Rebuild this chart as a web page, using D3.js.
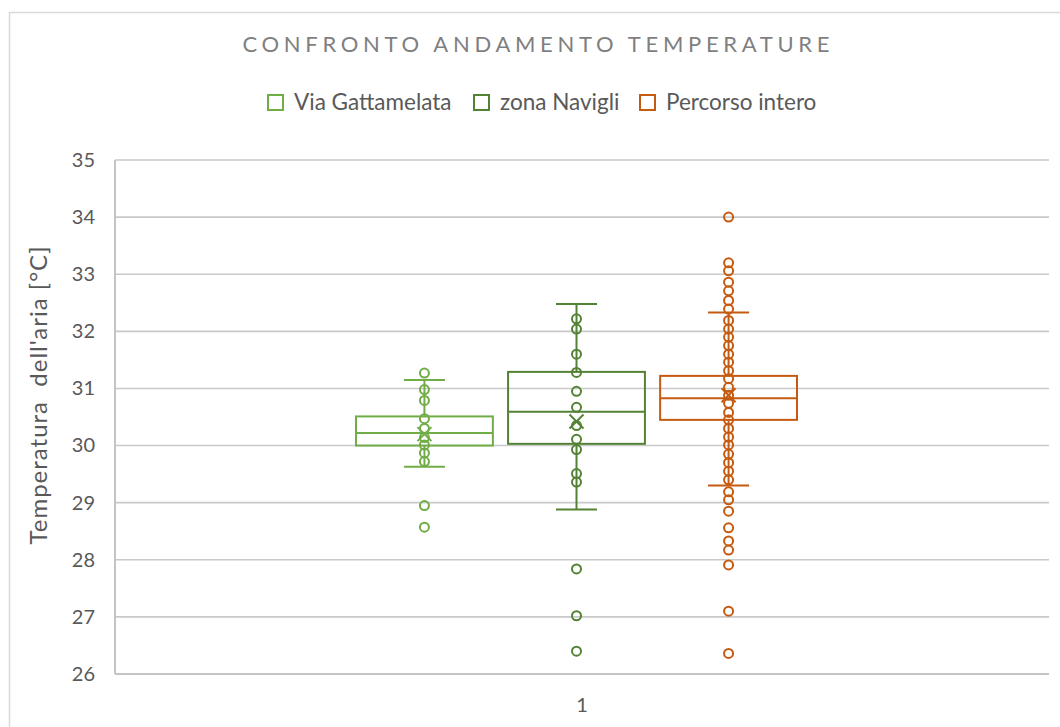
<!DOCTYPE html>
<html><head><meta charset="utf-8">
<script src="https://cdn.jsdelivr.net/npm/d3@7"></script>
<style>
body{margin:0;background:#fff}
text{font-family: Lato, "Open Sans", sans-serif}
</style>
</head><body>
<svg id="c" width="1060" height="727"></svg>
<script>
const chartTitle = "CONFRONTO ANDAMENTO TEMPERATURE";
const yAxisTitle = "Temperatura  dell'aria [°C]";
const categories = ["1"];
const seriesNames = ["Via Gattamelata", "zona Navigli", "Percorso intero"];
const seriesColors = ["#70ad47", "#548235", "#c55a11"];
const q1 = [30.00, 30.03, 30.45];
const median = [30.22, 30.59, 30.83];
const q3 = [30.51, 31.29, 31.22];
const whiskerLow = [29.63, 28.88, 29.30];
const whiskerHigh = [31.15, 32.48, 32.33];
const mean = [30.20, 30.42, 30.88];
const pointsGattamelata = [31.27, 30.98, 30.79, 30.47, 30.30, 30.14, 30.01, 29.87, 29.72, 28.95, 28.57];
const pointsNavigli = [32.22, 32.04, 31.60, 31.28, 30.95, 30.67, 30.35, 30.11, 29.93, 29.51, 29.36, 27.84, 27.02, 26.40];
const pointsPercorso = [34.00, 33.20, 33.06, 32.86, 32.71, 32.54, 32.39, 32.19, 32.04, 31.90, 31.75, 31.60, 31.46, 31.31, 31.17, 31.02, 30.88, 30.74, 30.58, 30.45, 30.30, 30.15, 30.01, 29.85, 29.70, 29.55, 29.40, 29.19, 29.05, 28.85, 28.56, 28.33, 28.17, 27.91, 27.10, 26.36];
const yTicks = [26, 27, 28, 29, 30, 31, 32, 33, 34, 35];

const allPoints = [pointsGattamelata, pointsNavigli, pointsPercorso];
const series = seriesNames.map((name, i) => ({
  name, color: seriesColors[i], q1: q1[i], median: median[i], q3: q3[i],
  lo: whiskerLow[i], hi: whiskerHigh[i], mean: mean[i], points: allPoints[i]
}));

const svg = d3.select("#c");
const W = 1060, H = 727;
const plot = {left: 115, right: 1049, top: 160, bottom: 674};

svg.append("rect").attr("x", 9.5).attr("y", 12.5).attr("width", W).attr("height", H)
  .attr("fill", "#fff").attr("stroke", "#d9d9d9").attr("stroke-width", 1.5);

const y = d3.scaleLinear().domain([26, 35]).range([plot.bottom, plot.top]);
const x0 = d3.scaleBand().domain(categories).range([plot.left, plot.right]);
const x1 = d3.scaleBand().domain(seriesNames).range([241, 682]).paddingInner(0.1);

svg.append("g").selectAll("line").data(yTicks.filter(t => t > 26)).join("line")
  .attr("x1", plot.left).attr("x2", plot.right)
  .attr("y1", d => y(d)).attr("y2", d => y(d))
  .attr("stroke", "#c9c9c9").attr("stroke-width", 1.6);

svg.append("line").attr("x1", plot.left).attr("x2", plot.left).attr("y1", plot.top).attr("y2", plot.bottom)
  .attr("stroke", "#c4c4c4").attr("stroke-width", 2);
svg.append("line").attr("x1", plot.left).attr("x2", plot.right).attr("y1", plot.bottom).attr("y2", plot.bottom)
  .attr("stroke", "#c4c4c4").attr("stroke-width", 2);

const yAxis = svg.append("g").attr("transform", `translate(${plot.left},0)`)
  .call(d3.axisLeft(y).tickValues(yTicks).tickFormat(d3.format("d")).tickSize(0).tickPadding(20));
yAxis.select(".domain").remove();
yAxis.selectAll("text").attr("font-size", 20).attr("fill", "#595959").attr("font-family", "Lato, sans-serif");

const xAxis = svg.append("g").attr("transform", `translate(0,${plot.bottom})`)
  .call(d3.axisBottom(x0).tickSize(0).tickPadding(24));
xAxis.select(".domain").remove();
xAxis.selectAll("text").attr("font-size", 20).attr("fill", "#595959").attr("font-family", "Lato, sans-serif");

const g = svg.append("g");
series.forEach(s => {
  const bx = x0(categories[0]) + x1(s.name);
  const bw = x1.bandwidth();
  const cx = bx + bw / 2;
  const capW = bw * 0.3;
  const gs = g.append("g").attr("stroke", s.color).attr("fill", "none").attr("stroke-width", 2);
  gs.append("line").attr("x1", cx).attr("x2", cx).attr("y1", y(s.q3)).attr("y2", y(s.hi));
  gs.append("line").attr("x1", cx).attr("x2", cx).attr("y1", y(s.q1)).attr("y2", y(s.lo));
  gs.append("line").attr("x1", cx - capW / 2).attr("x2", cx + capW / 2).attr("y1", y(s.hi)).attr("y2", y(s.hi));
  gs.append("line").attr("x1", cx - capW / 2).attr("x2", cx + capW / 2).attr("y1", y(s.lo)).attr("y2", y(s.lo));
  gs.append("rect").attr("x", bx).attr("y", y(s.q3)).attr("width", bw).attr("height", y(s.q1) - y(s.q3));
  gs.append("line").attr("x1", bx).attr("x2", bx + bw).attr("y1", y(s.median)).attr("y2", y(s.median));
  gs.selectAll("circle").data(s.points).join("circle")
    .attr("cx", cx).attr("cy", d => y(d)).attr("r", 4.5);
  const m = 7, my = y(s.mean);
  gs.append("line").attr("x1", cx - m).attr("x2", cx + m).attr("y1", my - m).attr("y2", my + m);
  gs.append("line").attr("x1", cx - m).attr("x2", cx + m).attr("y1", my + m).attr("y2", my - m);
});

svg.append("text").attr("x", 536).attr("y", 52).attr("text-anchor", "middle")
  .attr("font-size", 22).attr("fill", "#7f7f7f")
  .attr("textLength", 587).attr("lengthAdjust", "spacing")
  .text(chartTitle);

const legendX = [268, 474, 640];
const lg = svg.append("g");
series.forEach((s, i) => {
  lg.append("rect").attr("x", legendX[i]).attr("y", 95).attr("width", 15).attr("height", 15)
    .attr("fill", "none").attr("stroke", s.color).attr("stroke-width", 2);
  lg.append("text").attr("x", legendX[i] + 26).attr("y", 110)
    .attr("font-size", 22.5).attr("fill", "#595959").text(s.name);
});

svg.append("text").attr("transform", "translate(47,395) rotate(-90)")
  .attr("text-anchor", "middle").attr("font-size", 24).attr("fill", "#595959")
  .attr("letter-spacing", 1)
  .style("white-space", "pre").text(yAxisTitle);
</script>
</body></html>
